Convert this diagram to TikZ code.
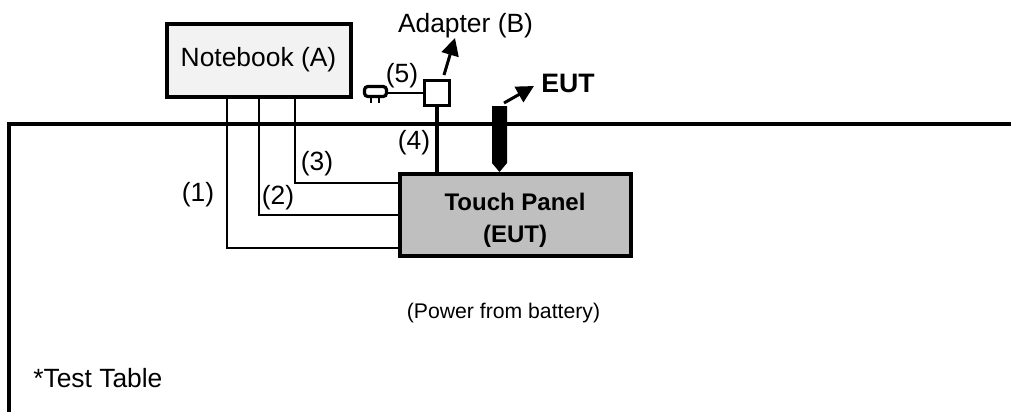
\documentclass[tikz,border=0pt]{standalone}
\usepackage{fontspec}
\setmainfont{Liberation Sans}
\usetikzlibrary{arrows.meta}
\definecolor{nbfill}{HTML}{F2F2F2}
\definecolor{panelfill}{HTML}{BFBFBF}
\tikzset{
  x=0.75pt,y=-0.75pt,
  lbl/.style={inner sep=0pt,font=\fontsize{19.8}{24}\selectfont,align=center},
  thin wire/.style={line width=1.5pt,draw=black},
  ptr/.style={line width=2.25pt,-{Triangle[length=13pt,width=13pt]}},
}
\begin{document}
\begin{tikzpicture}
\useasboundingbox (0,0) rectangle (1011,412);
\fill[white] (0,0) rectangle (1011,412);
% table
\draw[line width=3pt] (9,412) -- (9,124) -- (1011,124);
\node[draw,line width=3pt,fill=nbfill,outer sep=0pt,inner sep=0pt,minimum width=138pt,minimum height=54.75pt,font=\fontsize{19.8}{24}\selectfont] (nb) at (258.5,60) {\raisebox{2.25pt}{Notebook (A)}};
\node[draw,line width=3pt,fill=panelfill,outer sep=0pt,inner sep=0pt,minimum width=173.25pt,minimum height=61.5pt,font=\bfseries\fontsize{18}{24}\selectfont] (tp) at (515,214.5) {\raisebox{-8.6pt}[0pt][0pt]{\begin{tabular}{@{}c@{}}Touch Panel\\(EUT)\end{tabular}}};
\node[draw,line width=1.8pt,fill=white,outer sep=0pt,minimum width=18.75pt,minimum height=18.75pt,inner sep=0pt] (ad) at (437,93) {};
\coordinate (w1a) at (226.5,98); \coordinate (w1b) at (399,248);
\coordinate (w2a) at (258.5,98); \coordinate (w2b) at (399,214.5);
\coordinate (w3a) at (294.5,98); \coordinate (w3b) at (399,182.5);
\draw[thin wire] (w1a) |- (w1b);
\draw[thin wire] (w2a) |- (w2b);
\draw[thin wire] (w3a) |- (w3b);
\draw[line width=2.6pt] (ad.south) -- (ad.south |- tp.north);
% plug
\node[draw,line width=2.4pt,rounded corners=2.5pt,outer sep=0pt,minimum width=16.5pt,minimum height=7.5pt,inner sep=0pt] (plug) at (375.5,91.5) {};
\draw[line width=2pt] (371,97) -- (371,103);
\draw[line width=2pt] (379,97) -- (379,103);
\draw[line width=1.5pt] (plug.east |- ad.west) -- (ad.west);
% pen
\fill (492,106) -- (507,106) -- (507,163) -- (499.5,172) -- (492,163) -- cycle;
% arrows
\coordinate (a1) at (444,75); \coordinate (a2) at (455,38);
\draw[ptr] (a1) -- (a2);
\coordinate (a3) at (504,103); \coordinate (a4) at (534,86);
\draw[ptr] (a3) -- (a4);
% labels
\node[lbl] (lb) at (465.5,26) {Adapter (B)};
\node[lbl,font=\bfseries\fontsize{20}{24}\selectfont] (le) at (568,83) {EUT};
\node[lbl] (l1) at (198,194.5) {(1)};
\node[lbl] (l2) at (278,198) {(2)};
\node[lbl] (l3) at (317,163.5) {(3)};
\node[lbl] (l4) at (414,143) {(4)};
\node[lbl] (l5) at (402,75.5) {(5)};
\node[lbl,font=\fontsize{15.9}{19}\selectfont] (lp) at (503.5,313) {(Power from battery)};
\node[lbl,anchor=west] (lt) at (33,378) {*Test Table};
\end{tikzpicture}
\end{document}
